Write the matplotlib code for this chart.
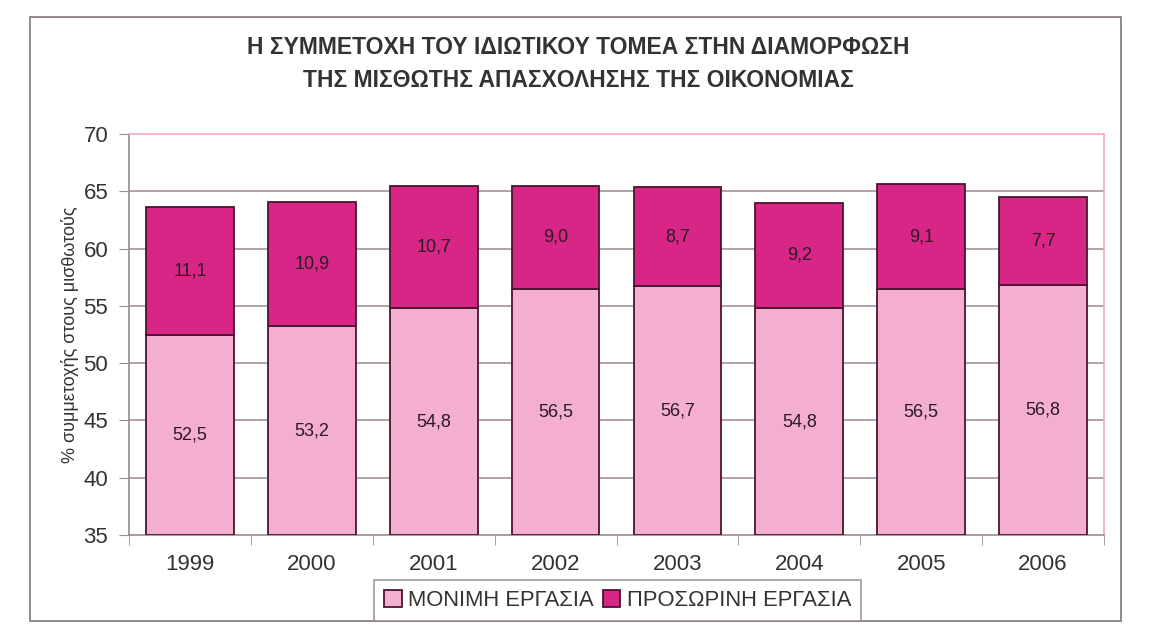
import matplotlib
matplotlib.use("Agg")
import matplotlib.pyplot as plt
from matplotlib.patches import Rectangle, Patch
import numpy as np

years = ["1999", "2000", "2001", "2002", "2003", "2004", "2005", "2006"]
permanent = [52.5, 53.2, 54.8, 56.5, 56.7, 54.8, 56.5, 56.8]
temporary = [11.1, 10.9, 10.7, 9.0, 8.7, 9.2, 9.1, 7.7]
series_names = ["ΜΟΝΙΜΗ ΕΡΓΑΣΙΑ", "ΠΡΟΣΩΡΙΝΗ ΕΡΓΑΣΙΑ"]
title = "Η ΣΥΜΜΕΤΟΧΗ ΤΟΥ ΙΔΙΩΤΙΚΟΥ ΤΟΜΕΑ ΣΤΗΝ ΔΙΑΜΟΡΦΩΣΗ\nΤΗΣ ΜΙΣΘΩΤΗΣ ΑΠΑΣΧΟΛΗΣΗΣ ΤΗΣ ΟΙΚΟΝΟΜΙΑΣ"
ylabel = "% συμμετοχής στους μισθωτούς"
base = 35

plt.rcParams['font.family'] = ['Liberation Sans', 'DejaVu Sans']

W, H = 1151, 639
fig = plt.figure(figsize=(W / 100, H / 100), dpi=100)
ax = fig.add_axes([129 / W, 1 - 535 / H, (1104 - 129) / W, (535 - 134) / H])

c_perm = "#f4aed0"
c_temp = "#d82687"
edge = "#4a1530"
grid_c = "#9c8a93"
text_c = "#333333"

x = np.arange(len(years))
perm_h = [p - base for p in permanent]
ax.bar(x, perm_h, bottom=base, width=0.72, color=c_perm, edgecolor=edge, linewidth=1.3, zorder=3)
ax.bar(x, temporary, bottom=permanent, width=0.72, color=c_temp, edgecolor=edge, linewidth=1.3, zorder=3)

for i in range(len(years)):
    ax.text(x[i], base + perm_h[i] / 2, f"{permanent[i]:.1f}".replace(".", ","),
            ha="center", va="center", fontsize=13, color="#2a1a22", zorder=4)
    ax.text(x[i], permanent[i] + temporary[i] / 2, f"{temporary[i]:.1f}".replace(".", ","),
            ha="center", va="center", fontsize=13, color="#2a1a22", zorder=4)

ax.set_xlim(-0.5, len(years) - 0.5)
ax.set_ylim(35, 70)
ax.set_yticks(np.arange(35, 71, 5))
ax.set_xticks(x)
ax.set_xticklabels(years)
ax.set_xticks(np.arange(-0.5, len(years), 1), minor=True)
ax.tick_params(axis="x", which="major", length=0, pad=14, labelsize=16, labelcolor=text_c)
ax.tick_params(axis="x", which="minor", length=7, color=grid_c, direction="out")
ax.tick_params(axis="y", length=7, color=grid_c, labelsize=16, labelcolor=text_c, pad=8)

for yv in range(40, 70, 5):
    ax.axhline(yv, color=grid_c, linewidth=1.1, zorder=1)

ax.spines["left"].set_color(grid_c)
ax.spines["bottom"].set_color(grid_c)
ax.spines["top"].set_color("#f0a8c8")
ax.spines["right"].set_color("#f0a8c8")
for s in ax.spines.values():
    s.set_linewidth(1.2)

ax.set_ylabel(ylabel, fontsize=13, color=text_c, labelpad=3)

fig.text(578 / W, 1 - 64 / H, title, ha="center", va="center", fontsize=16.5,
         fontweight="bold", color="#333333", linespacing=1.55)

fig.add_artist(Rectangle((29.5 / W, 1 - 621 / H), (1120.5 - 29.5) / W, (621 - 17) / H,
                         transform=fig.transFigure, fill=False, edgecolor="#8c7f86", linewidth=1.3))

handles = [Patch(facecolor=c_perm, edgecolor=edge, linewidth=1.3),
           Patch(facecolor=c_temp, edgecolor=edge, linewidth=1.3)]
leg = fig.legend(handles, series_names, loc="lower center", bbox_to_anchor=(617.5 / W, 1 - 621 / H),
                 ncol=2, frameon=True, fancybox=False, fontsize=15.8, handlelength=0.8, handleheight=0.8,
                 handletextpad=0.3, columnspacing=0.4, borderpad=0.45, borderaxespad=0)
leg.get_frame().set_edgecolor("#8c7f86")
leg.get_frame().set_linewidth(1.2)
for t in leg.get_texts():
    t.set_color(text_c)

fig.savefig("out.png", dpi=100)
